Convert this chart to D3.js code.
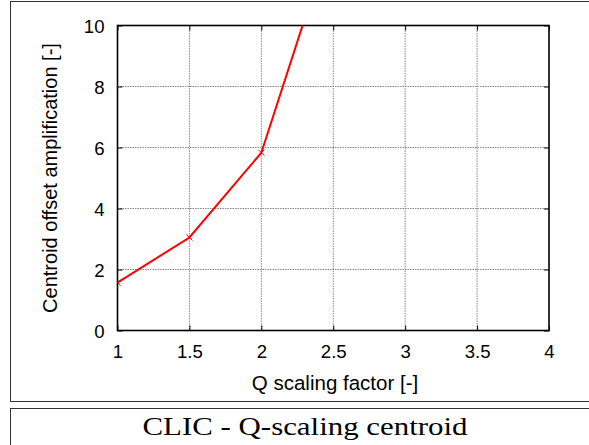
<!DOCTYPE html>
<html><head><meta charset="utf-8">
<script src="https://cdn.jsdelivr.net/npm/d3@7"></script>
<style>body{margin:0;background:#fff}svg{display:block}</style>
</head><body>
<script>
const qFactor = [1, 1.5, 2, 2.5];
const amplification = [1.57, 3.05, 5.83, 13.1];
const xTicks = [1, 1.5, 2, 2.5, 3, 3.5, 4];
const yTicks = [0, 2, 4, 6, 8, 10];
const xTitle = "Q scaling factor [-]";
const yTitle = "Centroid offset amplification [-]";
const caption = "CLIC - Q-scaling centroid";

const W = 589, H = 445;
const svg = d3.select("body").append("svg").attr("width", W).attr("height", H);
const m = {l: 117.5, r: 549, t: 25.5, b: 330.5};
const x = d3.scaleLinear().domain([1, 4]).range([m.l, m.r]);
const y = d3.scaleLinear().domain([0, 10]).range([m.b, m.t]);
const sans = "Liberation Sans, Arial, Helvetica, sans-serif";

// outer frames
svg.append("rect").attr("x", 10.5).attr("y", 1.5).attr("width", 600).attr("height", 400)
  .attr("fill", "none").attr("stroke", "#333").attr("stroke-width", 1);
svg.append("rect").attr("x", 10.5).attr("y", 408.5).attr("width", 600).attr("height", 60)
  .attr("fill", "none").attr("stroke", "#333").attr("stroke-width", 1);

// grid
const g = svg.append("g");
g.selectAll(".gx").data(xTicks.slice(1, -1)).join("line")
  .attr("x1", d => x(d)).attr("x2", d => x(d)).attr("y1", m.t).attr("y2", m.b)
  .attr("stroke", "#888").attr("stroke-width", 1).attr("stroke-dasharray", "1.5,1");
g.selectAll(".gy").data(yTicks.slice(1, -1)).join("line")
  .attr("x1", m.l).attr("x2", m.r).attr("y1", d => y(d)).attr("y2", d => y(d))
  .attr("stroke", "#888").attr("stroke-width", 1).attr("stroke-dasharray", "1.5,1");

// axes with inward ticks
const axB = svg.append("g").attr("transform", `translate(0,${m.b})`)
  .call(d3.axisBottom(x).tickValues(xTicks).tickSize(-5).tickPadding(14.5).tickFormat(d3.format("")));
const axL = svg.append("g").attr("transform", `translate(${m.l},0)`)
  .call(d3.axisLeft(y).tickValues(yTicks).tickSize(-5).tickPadding(13).tickFormat(d3.format("")));
const axT = svg.append("g").attr("transform", `translate(0,${m.t})`)
  .call(d3.axisTop(x).tickValues(xTicks).tickSize(-5).tickFormat(""));
const axR = svg.append("g").attr("transform", `translate(${m.r},0)`)
  .call(d3.axisRight(y).tickValues(yTicks).tickSize(-5).tickFormat(""));
[axB, axL, axT, axR].forEach(a => {
  a.select(".domain").remove();
  a.selectAll("line").attr("stroke", "#000");
  a.selectAll("text").attr("font-family", sans)
    .attr("font-size", 18.6).attr("fill", "#000");
});
axB.selectAll("text").attr("dy", "0.71em");
axL.selectAll("text").attr("dy", "0.4em");

svg.append("rect").attr("x", m.l).attr("y", m.t).attr("width", m.r - m.l).attr("height", m.b - m.t)
  .attr("fill", "none").attr("stroke", "#000").attr("stroke-width", 1.6);

// clip
svg.append("clipPath").attr("id", "clip").append("rect")
  .attr("x", m.l).attr("y", m.t).attr("width", m.r - m.l).attr("height", m.b - m.t);

const pts = qFactor.map((q, i) => [q, amplification[i]]);
const plot = svg.append("g").attr("clip-path", "url(#clip)");
plot.append("path").datum(pts)
  .attr("d", d3.line().x(d => x(d[0])).y(d => y(d[1])))
  .attr("fill", "none").attr("stroke", "#ff0000").attr("stroke-width", 2);
plot.selectAll(".mk").data(pts).join("path")
  .attr("d", d => { const cx = x(d[0]), cy = y(d[1]), s = 3;
    return `M${cx-s},${cy-s}L${cx+s},${cy+s}M${cx-s},${cy+s}L${cx+s},${cy-s}`; })
  .attr("stroke", "#ff0000").attr("stroke-width", 1);

// titles
svg.append("text").attr("x", 335).attr("y", 390).attr("text-anchor", "middle")
  .attr("font-family", sans).attr("font-size", 20.5).text(xTitle);
svg.append("text").attr("transform", "translate(56.5,178) rotate(-90)").attr("text-anchor", "middle")
  .attr("font-family", sans).attr("font-size", 20).text(yTitle);
svg.append("text").attr("x", 305).attr("y", 435).attr("text-anchor", "middle")
  .attr("font-family", "Liberation Serif, Times New Roman, serif").attr("font-size", 25)
  .attr("textLength", 325).attr("lengthAdjust", "spacingAndGlyphs").text(caption);
</script>
</body></html>
